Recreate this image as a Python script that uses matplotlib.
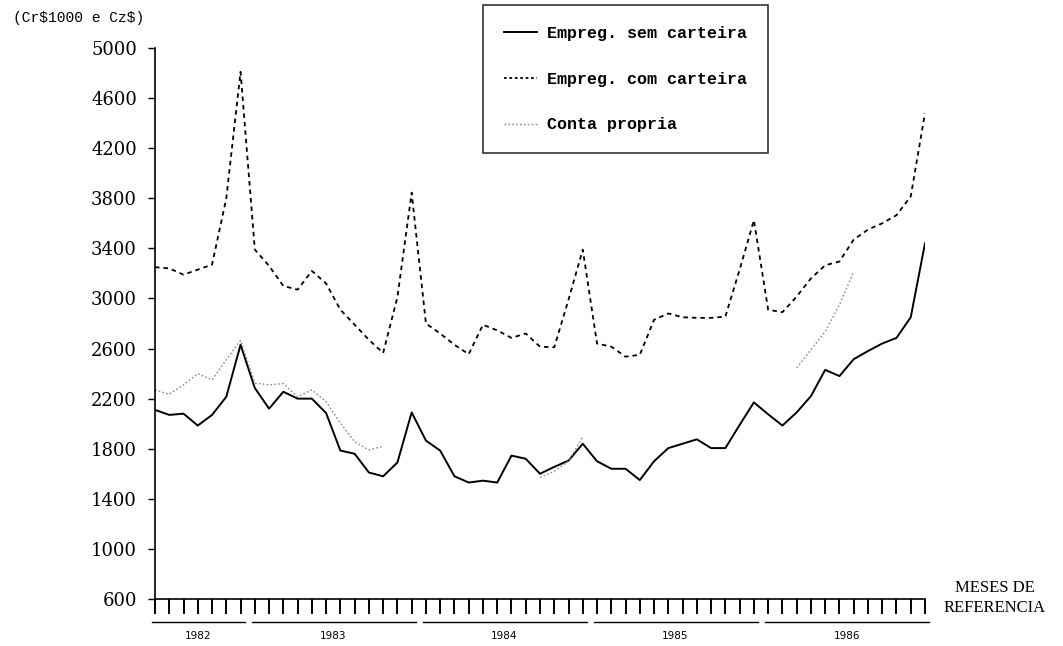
import numpy as np
import matplotlib
matplotlib.use("Agg")
import matplotlib.pyplot as plt
from matplotlib.lines import Line2D

# monthly series, June 1982 .. December 1986 (55 months)
months = [f"{y}-{m:02d}" for y in range(1982, 1987) for m in range(1, 13)][5:]
years = ["1982", "1983", "1984", "1985", "1986"]

sem_carteira = [2110, 2070, 2080, 1985, 2070, 2215, 2630, 2285, 2120, 2255,
                2200, 2200, 2085, 1785, 1760, 1610, 1580, 1690, 2090, 1865,
                1785, 1580, 1530, 1545, 1530, 1745, 1720, 1600, 1655, 1705,
                1840, 1700, 1640, 1640, 1550, 1700, 1805, 1840, 1875, 1805,
                1805, 1990, 2170, 2075, 1985, 2090, 2220, 2430, 2380, 2515,
                2580, 2640, 2685, 2850, 3440]

com_carteira = [3250, 3240, 3190, 3230, 3270, 3800, 4810, 3390, 3260, 3100,
                3070, 3220, 3120, 2910, 2790, 2670, 2565, 3010, 3845, 2800,
                2720, 2630, 2555, 2790, 2745, 2685, 2720, 2615, 2610, 2990,
                3390, 2640, 2615, 2535, 2550, 2830, 2880, 2850, 2845, 2845,
                2855, 3230, 3625, 2910, 2890, 3015, 3160, 3265, 3295, 3470,
                3550, 3600, 3665, 3815, 4480]

nan = np.nan
# faint line in the print: only parts of it are visible
conta_propria = [2270, 2235, 2310, 2400, 2350, 2510, 2665, 2325, 2310, 2320,
                 2215, 2270, 2175, 2005, 1855, 1790, 1820, nan, nan, nan,
                 nan, nan, nan, nan, nan, nan, nan, 1570, 1620, 1700,
                 1895, nan, nan, nan, nan, nan, nan, nan, nan, nan,
                 nan, nan, nan, nan, nan, 2445, 2590, 2735, 2950, 3215,
                 nan, nan, nan, nan, nan]

yticks = [600, 1000, 1400, 1800, 2200, 2600, 3000, 3400, 3800, 4200, 4600, 5000]

x = np.arange(len(months))

fig = plt.figure(figsize=(10.63, 6.46), dpi=100)
ax = fig.add_axes([155/1063, 1 - 599/646, (925-155)/1063, (599-48)/646])

ax.plot(x, sem_carteira, color="black", lw=1.4)
ax.plot(x, com_carteira, color="black", lw=1.3, dashes=(2.5, 2.2))
ax.plot(x, conta_propria, color="#8a8a8a", lw=1.0, dashes=(1.2, 1.6))

ax.set_xlim(0, len(months) - 1)
ax.set_ylim(600, 5000)
ax.set_yticks(yticks)
ax.set_yticklabels([str(v) for v in yticks], family="DejaVu Serif", fontsize=13)
ax.set_xticks(x)
ax.set_xticklabels([])
ax.tick_params(axis="x", direction="out", length=11, width=1.4, color="black")
ax.tick_params(axis="y", direction="out", length=5, width=1.0, pad=8)

for s in ["top", "right"]:
    ax.spines[s].set_visible(False)
ax.spines["left"].set_linewidth(1.2)
ax.spines["bottom"].set_linewidth(1.2)

# year bars and labels under the month ticks
trans = ax.get_xaxis_transform()
yr_of = [m[:4] for m in months]
for yr in years:
    idx = [i for i, m in enumerate(yr_of) if m == yr]
    a, b = idx[0] - 0.2, idx[-1] + 0.3
    ax.plot([a, b], [-0.042, -0.042], transform=trans, color="black",
            lw=1.0, clip_on=False)
    ax.text((idx[0] + idx[-1]) / 2, -0.058, yr, transform=trans,
            ha="center", va="top", fontsize=7.5, family="DejaVu Sans")

fig.text(13/1063, 1 - 18/646, "(Cr\\$1000 e Cz\\$)", family="Liberation Mono",
         fontsize=10.5, va="center", ha="left")
fig.text(995/1063, 1 - 598/646, "MESES DE\nREFERENCIA", family="Liberation Serif",
         fontsize=12, ha="center", va="center", linespacing=1.3)

handles = [Line2D([], [], color="black", lw=1.4),
           Line2D([], [], color="black", lw=1.3, dashes=(1.5, 1.5)),
           Line2D([], [], color="#8a8a8a", lw=1.0, dashes=(1.2, 1.6))]
labels = ["Empreg. sem carteira", "Empreg. com carteira", "Conta propria"]
leg = fig.legend(handles, labels, loc="upper left",
                 bbox_to_anchor=(483/1063, 1 - 5/646),
                 prop={"family": "Liberation Mono", "size": 12, "weight": "bold"},
                 frameon=True, fancybox=False, edgecolor="black",
                 handlelength=2.0, labelspacing=1.85, borderpad=1.25,
                 handletextpad=0.6, borderaxespad=0)
leg.get_frame().set_linewidth(1.2)

fig.savefig("out.png", dpi=100)
